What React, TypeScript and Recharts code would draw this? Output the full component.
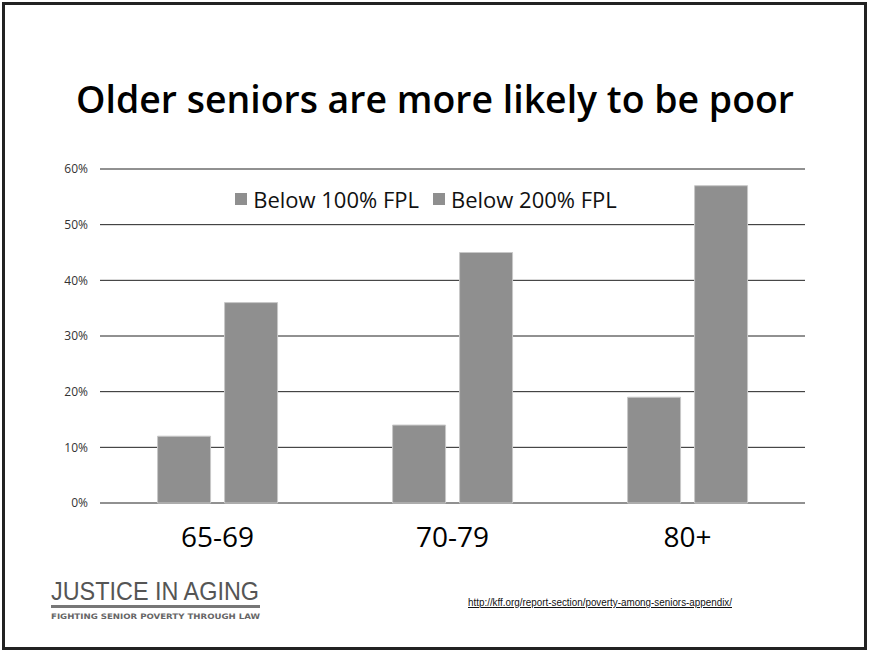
import { Bar, BarChart, CartesianGrid, Legend, XAxis, YAxis } from "recharts";

const ageGroups = ["65-69", "70-79", "80+"];
const below100 = [12, 14, 19];
const below200 = [36, 45, 57];
const yTicks = [0, 10, 20, 30, 40, 50, 60];

const seriesNames = ["Below 100% FPL", "Below 200% FPL"];
const barColor = "#8f8f8f";

const data = ageGroups.map((g, i) => ({
  name: g,
  b100: below100[i],
  b200: below200[i],
}));

const LegendContent = () => (
  <div
    style={{
      display: "flex",
      justifyContent: "center",
      alignItems: "center",
      fontFamily: "'Open Sans', sans-serif",
      fontSize: 22,
      color: "#111",
    }}
  >
    {seriesNames.map((n, i) => (
      <div
        key={n}
        style={{ display: "flex", alignItems: "center", marginLeft: i ? 14 : 0 }}
      >
        <span
          style={{
            width: 12,
            height: 12,
            background: barColor,
            display: "inline-block",
            marginRight: 6,
          }}
        />
        <span>{n}</span>
      </div>
    ))}
  </div>
);

export default function App() {
  return (
    <div
      style={{
        position: "absolute",
        left: 0,
        top: 0,
        width: 869,
        height: 652,
        background: "#fff",
      }}
    >
      <BarChart
        width={869}
        height={652}
        data={data}
        margin={{ top: 169, right: 64, left: 40, bottom: 89 }}
        barCategoryGap="24.5%"
        barGap={14}
      >
        <CartesianGrid vertical={false} stroke="#222" />
        <XAxis
          dataKey="name"
          axisLine={false}
          tickLine={false}
          tickSize={0}
          tickMargin={24}
          height={60}
          tick={{ fill: "#000", fontSize: 28, fontFamily: "'Open Sans', sans-serif" }}
        />
        <YAxis
          domain={[0, 60]}
          ticks={yTicks}
          tickFormatter={(v) => `${v}%`}
          axisLine={false}
          tickLine={false}
          tickSize={6}
          tickMargin={6}
          width={60}
          tick={{ fill: "#333", fontSize: 12, fontFamily: "'Open Sans', sans-serif" }}
        />
        <Legend
          layout="horizontal"
          verticalAlign="middle"
          content={<LegendContent />}
          wrapperStyle={{ position: "absolute", top: 184, left: 0, width: 852 }}
        />
        <Bar dataKey="b100" name={seriesNames[0]} fill={barColor} stroke="#c8c8c8" strokeWidth={1} isAnimationActive={false} />
        <Bar dataKey="b200" name={seriesNames[1]} fill={barColor} stroke="#c8c8c8" strokeWidth={1} isAnimationActive={false} />
      </BarChart>
      <svg
        width={869}
        height={652}
        style={{ position: "absolute", left: 0, top: 0, pointerEvents: "none" }}
      >
        <rect x={3.5} y={3.5} width={862} height={645} fill="none" stroke="#222" strokeWidth={3} />
        <text
          x={435}
          y={113}
          textAnchor="middle"
          fontFamily="'Open Sans', sans-serif"
          fontWeight={600}
          fontSize={37}
          fill="#000"
          textLength={718}
          lengthAdjust="spacingAndGlyphs"
        >
          Older seniors are more likely to be poor
        </text>
        <text
          x={51}
          y={600}
          fontFamily="'Liberation Sans Narrow', sans-serif"
          fontSize={25}
          fill="#555"
          textLength={208}
          lengthAdjust="spacingAndGlyphs"
        >
          JUSTICE IN AGING
        </text>
        <rect x={51} y={605} width={209} height={3} fill="#777" />
        <text
          x={51}
          y={619}
          fontFamily="'DejaVu Sans', sans-serif"
          fontWeight="bold"
          fontSize={7.5}
          fill="#666"
          textLength={209}
          lengthAdjust="spacingAndGlyphs"
        >
          FIGHTING SENIOR POVERTY THROUGH LAW
        </text>
        <text
          x={468}
          y={606}
          fontFamily="'Liberation Sans Narrow', sans-serif"
          fontSize={10}
          fill="#111"
          textDecoration="underline"
          textLength={264}
          lengthAdjust="spacingAndGlyphs"
        >
          http://kff.org/report-section/poverty-among-seniors-appendix/
        </text>
      </svg>
    </div>
  );
}
